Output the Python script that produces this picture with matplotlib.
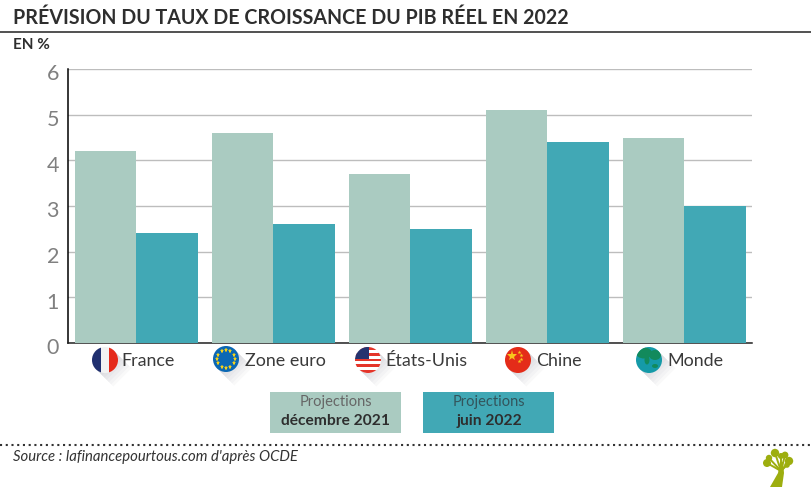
import numpy as np
from matplotlib import pyplot as plt
from matplotlib.patches import Circle, Rectangle, Polygon, Ellipse
from matplotlib.lines import Line2D
from matplotlib.transforms import ScaledTranslation

plt.rcParams['font.family'] = ['Lato', 'DejaVu Sans']

# values
pays = ['France', 'Zone euro', 'États-Unis', 'Chine', 'Monde']
dec_2021 = [4.2, 4.6, 3.7, 5.1, 4.5]
juin_2022 = [2.4, 2.6, 2.5, 4.4, 3.0]
y_ticks = [0, 1, 2, 3, 4, 5, 6]

VERT = '#aacbc1'
BLEU = '#41a8b5'
TEXTE = '#2e2e2e'
W, H = 812, 487

fig = plt.figure(figsize=(W / 100, H / 100), dpi=100)

# overlay in pixel coords for the title, legend and flags
bg = fig.add_axes([0, 0, 1, 1])
bg.set_xlim(0, W)
bg.set_ylim(H, 0)
bg.axis('off')

ax = fig.add_axes([68 / W, 1 - 343 / H, (752 - 68) / W, (343 - 69) / H])
ax.patch.set_alpha(0)
x = np.arange(len(pays))
larg = 0.449
ax.bar(x - larg / 2, dec_2021, larg, color=VERT, zorder=3)
ax.bar(x + larg / 2, juin_2022, larg, color=BLEU, zorder=3)
ax.set_xlim(-0.5, 4.493)
ax.set_ylim(0, 6)
ax.set_yticks(y_ticks)
ax.set_yticklabels([str(v) for v in y_ticks], fontsize=15.5, color='#808080')
ax.set_xticks([])
ax.tick_params(axis='y', length=0, pad=6.5)
# the labels sit a little under their gridline
decale = ScaledTranslation(0, -2.5 / 72, fig.dpi_scale_trans)
for lab in ax.get_yticklabels():
    lab.set_transform(lab.get_transform() + decale)
ax.grid(axis='y', color='#bdbdbd', linewidth=1.0, zorder=0)
ax.set_axisbelow(True)
for s in ['top', 'right']:
    ax.spines[s].set_visible(False)
ax.spines['left'].set_color('black')
ax.spines['bottom'].set_color('#222222')
ax.spines['left'].set_linewidth(1.1)
ax.spines['bottom'].set_linewidth(1.1)

# title
bg.text(13, 18, 'PRÉVISION DU TAUX DE CROISSANCE DU PIB RÉEL EN 2022', fontsize=14.15,
        fontweight='bold', color=TEXTE, va='center', ha='left')
bg.add_line(Line2D([0, W], [31.5, 31.5], color='#333333', lw=1.2))
bg.text(13, 45, 'EN %', fontsize=11, fontweight='bold', color=TEXTE, va='center')


def ombre(cx, cy, r):
    # soft shadow falling to the lower right of a flag
    for i in range(8):
        d = 2 + i * 2.2
        bg.add_patch(Polygon([[cx + r * 0.7, cy - r * 0.7], [cx + r * 0.7 + d, cy - r * 0.7 + d],
                              [cx - r * 0.7 + d, cy + r * 0.7 + d], [cx - r * 0.7, cy + r * 0.7]],
                             closed=True, fc='#8a8a9a', ec='none', alpha=0.05, zorder=1))


def disque(cx, cy, r, couleur):
    c = Circle((cx, cy), r, fc=couleur, ec='none', zorder=2)
    bg.add_patch(c)
    return c


def france(cx, cy, r):
    c = disque(cx, cy, r, '#f2f2f2')
    for dx, col in [(-r, '#20306f'), (r / 3, '#e52a1b')]:
        p = Rectangle((cx + dx, cy - r), 2 * r / 3, 2 * r, fc=col, ec='none', zorder=3)
        bg.add_patch(p)
        p.set_clip_path(c)


def euro(cx, cy, r):
    disque(cx, cy, r, '#0b68b4')
    for a in np.arange(0, 360, 30):
        px = cx + 0.68 * r * np.cos(np.radians(a))
        py = cy + 0.68 * r * np.sin(np.radians(a))
        bg.plot(px, py, marker='*', ms=3.6, color='#f6d21a', mew=0, zorder=3)


def usa(cx, cy, r):
    c = disque(cx, cy, r, 'white')
    n = 9
    for i in range(0, n, 2):
        p = Rectangle((cx - r, cy - r + i * 2 * r / n), 2 * r, 2 * r / n, fc='#e4352a', ec='none', zorder=3)
        bg.add_patch(p)
        p.set_clip_path(c)
    p = Rectangle((cx - r, cy - r), r * 1.05, r * 0.95, fc='#25336f', ec='none', zorder=4)
    bg.add_patch(p)
    p.set_clip_path(c)


def chine(cx, cy, r):
    disque(cx, cy, r, '#e42c19')
    bg.plot(cx - 5.5, cy - 4.5, marker='*', ms=8, color='#f8c51c', mew=0, zorder=3)
    for dx, dy in [(1, -8), (3.5, -5), (3.5, -1.5), (1, 1)]:
        bg.plot(cx + dx, cy + dy, marker='*', ms=3, color='#f8c51c', mew=0, zorder=3)


def monde(cx, cy, r):
    c = disque(cx, cy, r, '#159aa8')
    for ex, ey, w, h in [(-5, -7, 16, 11), (6, -5, 12, 10), (-2, 0, 5, 9), (6, 6, 6, 4)]:
        p = Ellipse((cx + ex, cy + ey), w, h, fc='#128a5c', ec='none', zorder=3)
        bg.add_patch(p)
        p.set_clip_path(c)


drapeaux = [(france, 105, 360, 121), (euro, 226, 359, 245), (usa, 368, 360, 385),
            (chine, 518, 360, 536), (monde, 649, 360, 667)]
for (f, cx, cy, tx), nom in zip(drapeaux, pays):
    ombre(cx, cy, 13)
    f(cx, cy, 13)
    bg.text(tx, 361, nom, fontsize=12.9, color='#3a3a3a', va='center', ha='left', zorder=3)

# legend boxes
bg.add_patch(Rectangle((270, 392), 131, 41, fc=VERT, ec='none'))
bg.add_patch(Rectangle((423, 392), 131, 41, fc=BLEU, ec='none'))
bg.text(336, 402, 'Projections', fontsize=10.5, color='#666666', ha='center', va='center')
bg.text(336, 421, 'décembre 2021', fontsize=11.2, fontweight='bold', color=TEXTE, ha='center', va='center')
bg.text(489, 402, 'Projections', fontsize=10.5, color='#33555c', ha='center', va='center')
bg.text(489, 421, 'juin 2022', fontsize=11.2, fontweight='bold', color=TEXTE, ha='center', va='center')

# footer
bg.add_line(Line2D([0, W], [444.5, 444.5], color='#333333', lw=1.5, linestyle=(0, (1, 1.75))))
bg.text(13, 457, "Source : lafinancepourtous.com d'après OCDE", fontsize=10.7, style='italic',
        color='#333333', va='center')

# small tree logo
VERT_ARBRE = '#9dae0f'
bg.add_patch(Polygon([[770, 487], [778, 473], [780, 462], [783, 462], [784, 473], [782, 487]],
                     closed=True, fc=VERT_ARBRE, ec='none'))
for ex, ey, r in [(767, 463, 4.0), (769, 458, 3.2), (775, 453, 4.2), (781, 456, 3.0),
                  (785, 455, 3.4), (789, 461, 4.2), (787, 465, 2.8)]:
    bg.add_patch(Circle((ex, ey), r, fc=VERT_ARBRE, ec='none'))
    bg.add_line(Line2D([ex, 781], [ey, 471], color=VERT_ARBRE, lw=1.4))

fig.savefig('out.png', dpi=100)
